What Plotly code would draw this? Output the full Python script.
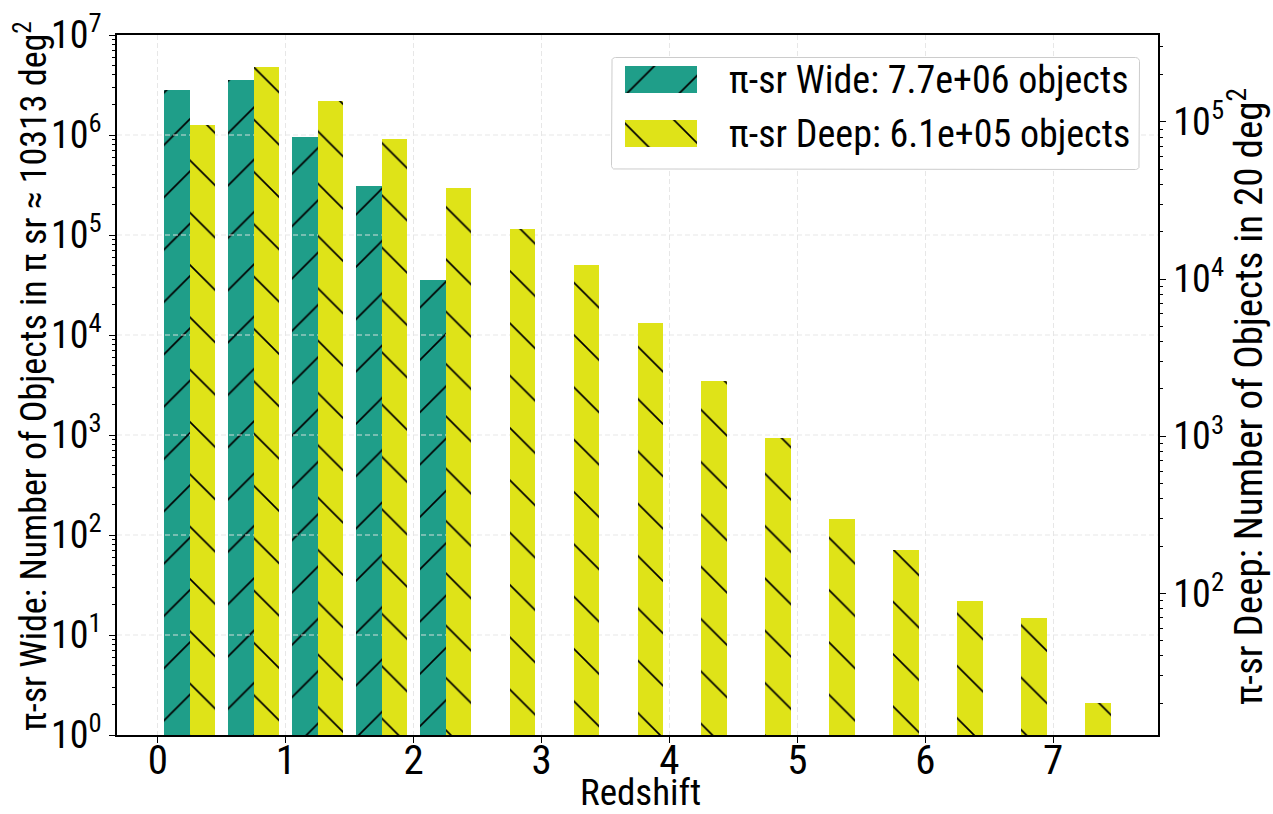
import math
import plotly.graph_objects as go

# Redshift bin edges (dz = 0.5)
z_edges = [0.0, 0.5, 1.0, 1.5, 2.0, 2.5, 3.0, 3.5, 4.0, 4.5, 5.0, 5.5, 6.0, 6.5, 7.0, 7.5]

# pi-sr Wide: objects per bin over ~10313 deg^2 (only the first five bins are populated)
wide_counts = [2.84e6, 3.57e6, 9.6e5, 3.11e5, 3.57e4]

# pi-sr Deep: objects per bin over 20 deg^2
deep_counts = [9.51e4, 2.24e5, 1.36e5, 7.74e4, 3.78e4, 2.07e4, 1.236e4, 5.28e3,
               2.25e3, 977, 298, 189, 89, 70, 20]

wide_name = "π-sr Wide"
deep_name = "π-sr Deep"
x_title = "Redshift"
y_title = "π-sr Wide: Number of Objects in π sr ≈ 10313 deg<sup>2</sup>"
y2_title = "π-sr Deep: Number of Objects in 20 deg<sup>2</sup>"
x_ticks = [0, 1, 2, 3, 4, 5, 6, 7]
y_ticks_exp = [0, 1, 2, 3, 4, 5, 6, 7]
y2_ticks_exp = [2, 3, 4, 5]

TEAL = "#1f9e89"
YELLOW = "#dfe318"
GRID = "rgba(228,228,228,0.9)"
NARROW = "Roboto Condensed, DejaVu Sans Condensed, sans-serif"

W, H = 1273, 814
ML, MR, MT, MB = 117, 115, 35, 79
PW, PH = W - ML - MR, H - MT - MB


def px_x(px):
    return (px - ML) / PW


def px_y(py):
    return (H - MB - py) / PH


bin_w = z_edges[1] - z_edges[0]
centers = [(a + b) / 2 for a, b in zip(z_edges[:-1], z_edges[1:])]
bar_w = 0.4 * bin_w

# x range: bar extent plus a 5% pad on each side
x_lo = centers[0] - bar_w
x_hi = centers[-1] + bar_w
x_pad = 0.05 * (x_hi - x_lo)
x_range = [x_lo - x_pad, x_hi + x_pad]

# right axis: log autoscale of the deep counts plus a 5% pad
l_lo, l_hi = math.log10(min(deep_counts)), math.log10(max(deep_counts))
l_pad = 0.05 * (l_hi - l_lo)
y2_range = [l_lo - l_pad, l_hi + l_pad]


def hatch(shape, color):
    return dict(shape=shape, fgcolor="black", fgopacity=1, bgcolor=color,
                size=37, solidity=0.045, fillmode="overlay")


fig = go.Figure()

# Wide histogram, left axis
fig.add_trace(go.Bar(
    x=centers[:len(wide_counts)], y=wide_counts, width=bar_w, offset=-bar_w,
    marker=dict(color=TEAL, line_width=0, pattern=hatch("/", TEAL)),
    name=wide_name, showlegend=False, yaxis="y", xaxis="x",
))

# horizontal grid of the left axis, drawn over the wide bars
gx, gy = [], []
for e in y_ticks_exp[1:-1]:
    gx += [x_range[0], x_range[1], None]
    gy += [10 ** e, 10 ** e, None]
fig.add_trace(go.Scatter(
    x=gx, y=gy, mode="lines", line=dict(color=GRID, width=1, dash="5px,3px"),
    hoverinfo="skip", showlegend=False, yaxis="y", xaxis="x",
))

# Deep histogram, right axis
fig.add_trace(go.Bar(
    x=centers, y=deep_counts, width=bar_w, offset=0,
    marker=dict(color=YELLOW, line_width=0, pattern=hatch("\\", YELLOW)),
    name=deep_name, showlegend=False, yaxis="y2", xaxis="x",
))

# ---- legend box, drawn in its own inset axes (pixel units, y downwards) ----
LX0, LY0, LX1, LY1 = 611, 57, 1140, 170
lw_, lh_ = LX1 - LX0, LY1 - LY0

# white background of the box (bars are drawn before lines in a subplot)
fig.add_trace(go.Bar(
    y=[lh_ / 2], x=[lw_ - 4], base=[2], width=lh_ - 4, orientation="h",
    marker=dict(color="rgba(255,255,255,0.9)", line_width=0),
    hoverinfo="skip", showlegend=False, xaxis="x3", yaxis="y3",
))

sw_x0, sw_len, sw_h = 14, 72, 27
rows = [(22.5, wide_name, sum(wide_counts), TEAL, "/"),
        (76.5, deep_name, sum(deep_counts), YELLOW, "\\")]
for yc, name, total, col, shp in rows:
    fig.add_trace(go.Bar(
        y=[yc], x=[sw_len], base=[sw_x0], width=sw_h, orientation="h",
        marker=dict(color=col, line_width=0, pattern=hatch(shp, col)),
        hoverinfo="skip", showlegend=False, xaxis="x3", yaxis="y3",
    ))
    fig.add_annotation(
        x=116, y=yc, xref="x3", yref="y3", xanchor="left", yanchor="middle",
        text=f"{name}: {total:.1e} objects", showarrow=False,
        font=dict(family=NARROW, size=38, color="black"),
    )


def rounded_rect(x0, y0, x1, y1, r, n=6):
    pts = []
    corners = [(x1 - r, y0 + r, -90), (x1 - r, y1 - r, 0), (x0 + r, y1 - r, 90), (x0 + r, y0 + r, 180)]
    for cx, cy, a0 in corners:
        for i in range(n + 1):
            a = math.radians(a0 + 90 * i / n)
            pts.append((cx + r * math.cos(a), cy + r * math.sin(a)))
    pts.append(pts[0])
    return [p[0] for p in pts], [p[1] for p in pts]


fx, fy = rounded_rect(0.5, 0.5, lw_ - 0.5, lh_ - 0.5, 4)
fig.add_trace(go.Scatter(
    x=fx, y=fy, mode="lines", line=dict(color="#cccccc", width=1),
    hoverinfo="skip", showlegend=False, xaxis="x3", yaxis="y3",
))

# axis titles
fig.add_annotation(x=px_x(640), y=px_y(793), xref="paper", yref="paper",
                   xanchor="center", yanchor="middle", showarrow=False,
                   text=x_title, font=dict(family=NARROW, size=37, color="black"))
fig.add_annotation(x=px_x(32), y=px_y(376), xref="paper", yref="paper",
                   xanchor="center", yanchor="middle", showarrow=False, textangle=-90,
                   text=y_title, font=dict(family=NARROW, size=36, color="black"))
fig.add_annotation(x=px_x(1246), y=px_y(397), xref="paper", yref="paper",
                   xanchor="center", yanchor="middle", showarrow=False, textangle=-90,
                   text=y2_title, font=dict(family=NARROW, size=39, color="black"))

tick_font_y = dict(family=NARROW, size=38, color="black")

fig.update_layout(
    width=W, height=H,
    margin=dict(l=ML, r=MR, t=MT, b=MB, autoexpand=False),
    paper_bgcolor="white", plot_bgcolor="white",
    barmode="overlay", bargap=0,
    showlegend=False,
    xaxis=dict(
        range=x_range, tickvals=x_ticks, ticktext=[str(t) for t in x_ticks],
        showline=True, linecolor="black", linewidth=1.5, mirror=True,
        ticks="outside", ticklen=6, tickcolor="black",
        showgrid=True, gridcolor=GRID, griddash="5px,3px", gridwidth=1,
        zeroline=False, ticklabelstandoff=-18,
        tickfont=dict(family=NARROW, size=41, color="black"),
        automargin=False,
    ),
    yaxis=dict(
        type="log", range=[y_ticks_exp[0], y_ticks_exp[-1]],
        tickvals=[10 ** e for e in y_ticks_exp],
        ticktext=[f"10<sup>{e}</sup>" for e in y_ticks_exp],
        showline=True, linecolor="black", linewidth=1.5,
        ticks="outside", ticklen=6, tickcolor="black",
        minor=dict(ticks="outside", ticklen=3, tickcolor="black", dtick="D1", showgrid=False),
        showgrid=False, zeroline=False,
        tickfont=tick_font_y,
        automargin=False,
    ),
    yaxis2=dict(
        type="log", range=y2_range, overlaying="y", side="right",
        tickvals=[10 ** e for e in y2_ticks_exp],
        ticktext=[f"10<sup>{e}</sup>" for e in y2_ticks_exp],
        showline=True, linecolor="black", linewidth=1.5,
        ticks="outside", ticklen=6, tickcolor="black",
        minor=dict(ticks="outside", ticklen=3, tickcolor="black", dtick="D1", showgrid=False),
        showgrid=False, zeroline=False,
        tickfont=tick_font_y,
        automargin=False,
    ),
    xaxis3=dict(domain=[px_x(LX0), px_x(LX1)], range=[0, lw_],
                visible=False, fixedrange=True, anchor="y3"),
    yaxis3=dict(domain=[px_y(LY1), px_y(LY0)], range=[lh_, 0],
                visible=False, fixedrange=True, anchor="x3"),
)

fig.write_html("out.html")
